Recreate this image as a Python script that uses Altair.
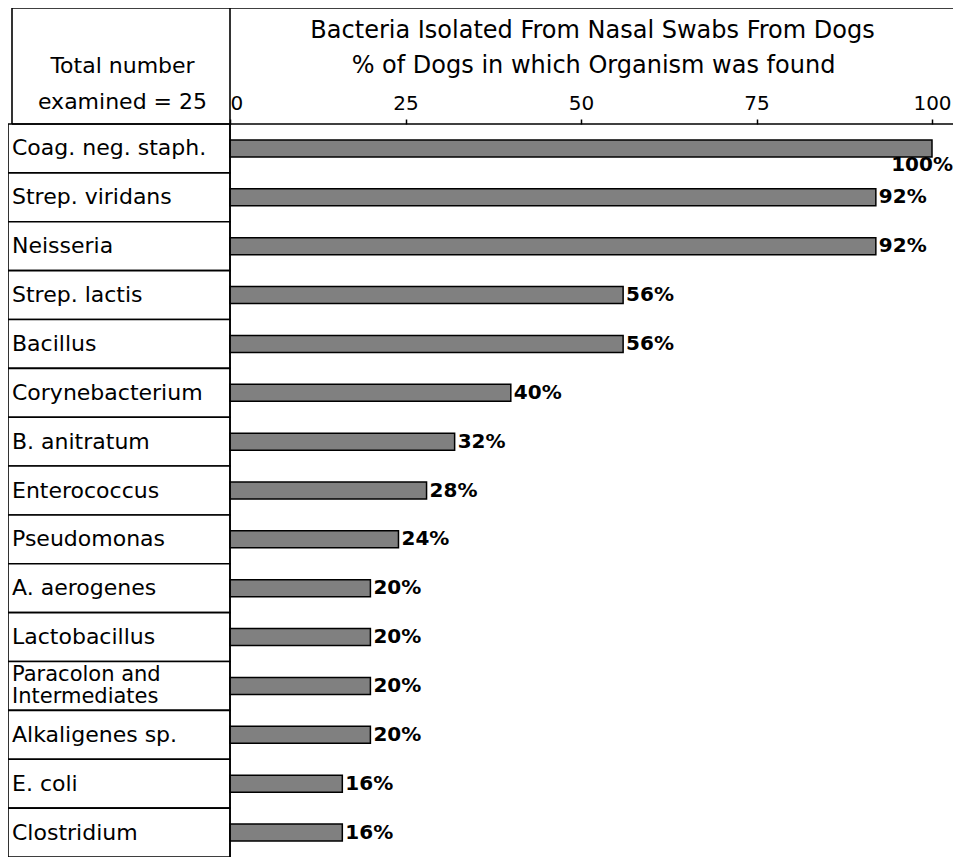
import altair as alt
import pandas as pd

organisms = ["Coag. neg. staph.", "Strep. viridans", "Neisseria", "Strep. lactis", "Bacillus",
             "Corynebacterium", "B. anitratum", "Enterococcus", "Pseudomonas", "A. aerogenes",
             "Lactobacillus", "Paracolon and\nIntermediates", "Alkaligenes sp.", "E. coli", "Clostridium"]
percent = [100, 92, 92, 56, 56, 40, 32, 28, 24, 20, 20, 20, 20, 16, 16]
x_ticks = [0, 25, 50, 75, 100]
title_text = "Bacteria Isolated From Nasal Swabs From Dogs"
axis_title = "% of Dogs in which Organism was found"
header_lines = ["Total number", "examined = 25"]

df = pd.DataFrame({"organism": organisms, "percent": percent})
df["label"] = df["percent"].astype(str) + "%"

W, H = 945, 733
FONT = "DejaVu Sans"
LW = 1.6

xscale = alt.Scale(domain=[0, 100], range=[222, 924])
yscale = alt.Scale(domain=organisms, paddingInner=0, paddingOuter=0)

x_axis = alt.Axis(values=x_ticks, orient="top", domain=False, grid=False,
                  tickSize=5, tickWidth=1.5, tickColor="black",
                  labelFont=FONT, labelFontSize=20, labelColor="black", labelPadding=6,
                  labelAlign={"condition": {"test": "datum.value == 0", "value": "left"}, "value": "center"},
                  title=axis_title, titleFont=FONT, titleFontSize=24, titleFontWeight="normal",
                  titleColor="black", titleX=585, titleY=-52, titleAlign="center",
                  titleBaseline="alphabetic")
y_axis = alt.Axis(labels=False, ticks=False, domain=False, grid=False,
                  title=header_lines, titleAngle=0, titleX=114, titleY=-52,
                  titleAlign="center", titleBaseline="alphabetic", titleFont=FONT,
                  titleFontSize=22, titleFontWeight="normal", titleColor="black",
                  titleLineHeight=36)

x_enc = alt.X("percent:Q", scale=xscale, axis=x_axis)
y_enc = alt.Y("organism:N", scale=yscale, sort=organisms, axis=y_axis)

base = alt.Chart(df)

boxes = base.mark_rect(fill="white", stroke="black", strokeWidth=LW).encode(
    x=alt.value(0), x2=alt.value(222), y=y_enc)

names = base.transform_filter("indexof(datum.organism, '\\n') < 0").mark_text(
    align="left", baseline="middle", font=FONT, fontSize=22, color="black").encode(
    x=alt.value(4), y=y_enc, text="organism:N")

names_two = base.transform_filter("indexof(datum.organism, '\\n') >= 0").mark_text(
    align="left", baseline="middle", font=FONT, fontSize=21, lineBreak="\n",
    lineHeight=22, dy=-11, color="black").encode(
    x=alt.value(4), y=y_enc, text="organism:N")

bars = base.mark_bar(height=17, fill="#808080", stroke="black", strokeWidth=1.5).encode(
    x=x_enc, y=y_enc)

vals = base.transform_filter("datum.percent < 100").mark_text(
    align="left", baseline="middle", dx=3, font=FONT, fontSize=20, fontWeight="bold",
    color="black").encode(x=x_enc, y=y_enc, text="label:N")

vals_full = base.transform_filter("datum.percent >= 100").mark_text(
    align="right", baseline="middle", dx=21, dy=17, font=FONT, fontSize=20, fontWeight="bold",
    color="black").encode(x=x_enc, y=y_enc, text="label:N")

frame_df = pd.DataFrame({"k": [0]})
fr = alt.Chart(frame_df)
top_line = fr.mark_rule(color="black", strokeWidth=LW).encode(
    x=alt.value(4), x2=alt.value(W), y=alt.value(-116))
left_hdr = fr.mark_rule(color="black", strokeWidth=LW).encode(
    x=alt.value(4), y=alt.value(-116), y2=alt.value(0))
zero_line = fr.mark_rule(color="black", strokeWidth=LW).encode(
    x=alt.value(222), y=alt.value(-116), y2=alt.value(H))
axis_line = fr.mark_rule(color="black", strokeWidth=LW).encode(
    x=alt.value(4), x2=alt.value(W), y=alt.value(0))

chart = alt.layer(boxes, names, names_two, bars, vals, vals_full,
                  top_line, left_hdr, zero_line, axis_line).properties(
    width=W, height=H, autosize="none",
    padding={"left": 0, "top": 116, "right": 0, "bottom": 0},
    title=alt.Title(title_text, font=FONT, fontSize=24, fontWeight="normal", color="black",
                    anchor="middle", dx=112, offset=-55, baseline="alphabetic"),
    background="white",
).configure_view(strokeWidth=0)

chart.save("out.html", embed_options={"renderer": "svg", "actions": False})
